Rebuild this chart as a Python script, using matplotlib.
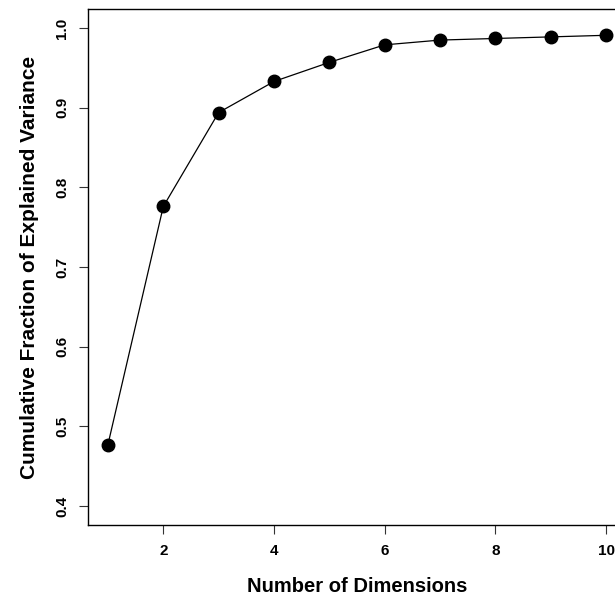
import matplotlib
matplotlib.use('Agg')
import matplotlib.pyplot as plt
from matplotlib import rcParams

rcParams['font.family'] = ['Liberation Sans', 'DejaVu Sans']
rcParams['font.weight'] = 'bold'

# data
dimensions = [1, 2, 3, 4, 5, 6, 7, 8, 9, 10]
cum_variance = [0.477, 0.776, 0.894, 0.933, 0.957, 0.979, 0.985, 0.987, 0.989, 0.991]
x_ticks = [2, 4, 6, 8, 10]
y_ticks = [0.4, 0.5, 0.6, 0.7, 0.8, 0.9, 1.0]

fig = plt.figure(figsize=(6.15, 6.05), dpi=100)
ax = fig.add_axes([0.1431, 0.1322, 0.8749, 0.8529])

ax.plot(dimensions, cum_variance, color='black', linewidth=0.9,
        marker='o', markersize=9, markerfacecolor='black',
        markeredgecolor='black')

# R-style 4% padding around the range
ax.set_xlim(0.64, 10.36)
ax.set_ylim(0.376, 1.024)
ax.set_xticks(x_ticks)
ax.set_yticks(y_ticks)
ax.set_xticklabels([str(t) for t in x_ticks], fontsize=11, fontweight='bold')
ax.set_yticklabels([f'{t:.1f}' for t in y_ticks], fontsize=11,
                   fontweight='bold', rotation=90, va='center')
ax.tick_params(axis='both', length=6.5, width=0.8, color='#333333', pad=7)

for s in ax.spines.values():
    s.set_linewidth(1.0)
    s.set_color('black')

ax.set_xlabel('Number of Dimensions', fontsize=14.5, fontweight='bold', labelpad=14)
ax.set_ylabel('Cumulative Fraction of Explained Variance', fontsize=15,
              fontweight='bold', labelpad=12)

fig.savefig('out.png', dpi=100)
plt.close(fig)
